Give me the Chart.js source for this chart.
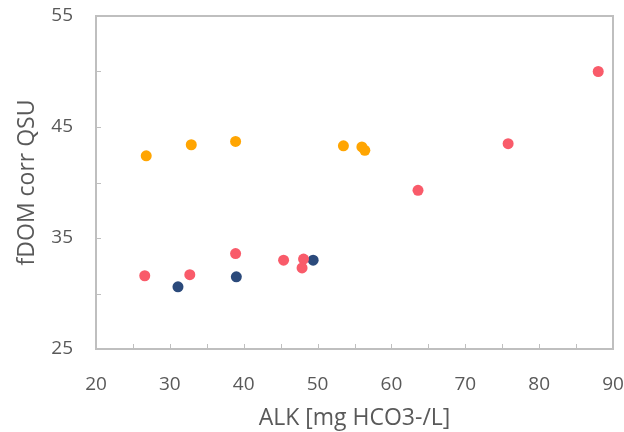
<!DOCTYPE html>
<html>
<head>
<meta charset="utf-8">
<script src="https://cdn.jsdelivr.net/npm/chart.js@4"></script>
<style>
  html, body { margin: 0; padding: 0; background: #fff; }
  #wrap { width: 624px; height: 432px; }
</style>
</head>
<body>
<div id="wrap"><canvas id="chart" width="624" height="432"></canvas></div>
<script>
// Values
const orangeX = [26.8, 32.9, 38.9, 53.5, 56.0, 56.4];
const orangeY = [42.4, 43.4, 43.7, 43.3, 43.2, 42.9];

const redX = [26.6, 32.7, 38.9, 45.4, 48.1, 47.9, 63.6, 75.8, 88.0];
const redY = [31.6, 31.7, 33.6, 33.0, 33.1, 32.3, 39.3, 43.5, 50.0];

const blueX = [31.1, 39.0, 49.4];
const blueY = [30.6, 31.5, 33.0];

const xLabels = [20, 30, 40, 50, 60, 70, 80, 90];
const yLabels = [25, 35, 45, 55];

const FONT = "'Open Sans', sans-serif";
const TEXT = '#595959';
const AXIS = '#BFBFBF';

const toPoints = (xs, ys) => xs.map((x, i) => ({ x: x, y: ys[i] }));

// frame + inward tick marks
const framePlugin = {
    id: 'frame',
    afterDatasetsDraw(chart) {
        const { ctx, chartArea: a, scales } = chart;
        ctx.save();
        ctx.strokeStyle = AXIS;
        ctx.lineWidth = 2;
        ctx.strokeRect(a.left, a.top, a.right - a.left, a.bottom - a.top);
        ctx.lineWidth = 1;
        ctx.beginPath();
        scales.x.ticks.forEach(t => {
            const px = Math.round(scales.x.getPixelForValue(t.value)) + 0.5;
            ctx.moveTo(px, a.bottom);
            ctx.lineTo(px, a.bottom - 5);
        });
        scales.y.ticks.forEach(t => {
            const py = Math.round(scales.y.getPixelForValue(t.value)) + 0.5;
            ctx.moveTo(a.left, py);
            ctx.lineTo(a.left + 5, py);
        });
        ctx.stroke();
        ctx.restore();
    }
};

const mkSet = (data, color) => ({
    data: data,
    backgroundColor: color,
    borderColor: color,
    pointRadius: 5.5,
    pointHoverRadius: 5.5,
    borderWidth: 0
});

new Chart(document.getElementById('chart'), {
    type: 'scatter',
    data: {
        datasets: [
            mkSet(toPoints(orangeX, orangeY), '#FFA502'),
            mkSet(toPoints(redX, redY), '#F95B6A'),
            mkSet(toPoints(blueX, blueY), '#2B4A7B')
        ]
    },
    options: {
        responsive: false,
        animation: false,
        layout: { padding: { top: 16, right: 11, left: 14, bottom: 0 } },
        plugins: { legend: { display: false }, tooltip: { enabled: false } },
        scales: {
            x: {
                type: 'linear',
                min: 20, max: 90,
                afterFit: s => { s.height = 83; s.paddingLeft = 0; s.paddingRight = 0; },
                grid: { display: false, drawTicks: false },
                border: { display: false },
                ticks: {
                    stepSize: 5,
                    padding: 24,
                    color: TEXT,
                    font: { family: FONT, size: 19 },
                    callback: v => xLabels.includes(v) ? String(v) : ''
                },
                title: {
                    display: true,
                    text: 'ALK [mg HCO3-/L]',
                    color: TEXT,
                    font: { family: FONT, size: 23 },
                    padding: { top: 2, bottom: 0 }
                }
            },
            y: {
                type: 'linear',
                min: 25, max: 55,
                afterFit: s => { s.width = 82; s.paddingTop = 0; s.paddingBottom = 0; },
                grid: { display: false, drawTicks: false },
                border: { display: false },
                ticks: {
                    stepSize: 5,
                    padding: 23,
                    color: TEXT,
                    font: { family: FONT, size: 19 },
                    callback: v => yLabels.includes(v) ? String(v) : ''
                },
                title: {
                    display: true,
                    text: 'fDOM corr QSU',
                    color: TEXT,
                    font: { family: FONT, size: 23 },
                    padding: { top: 0, bottom: 0 }
                }
            }
        }
    },
    plugins: [framePlugin]
});
</script>
</body>
</html>
